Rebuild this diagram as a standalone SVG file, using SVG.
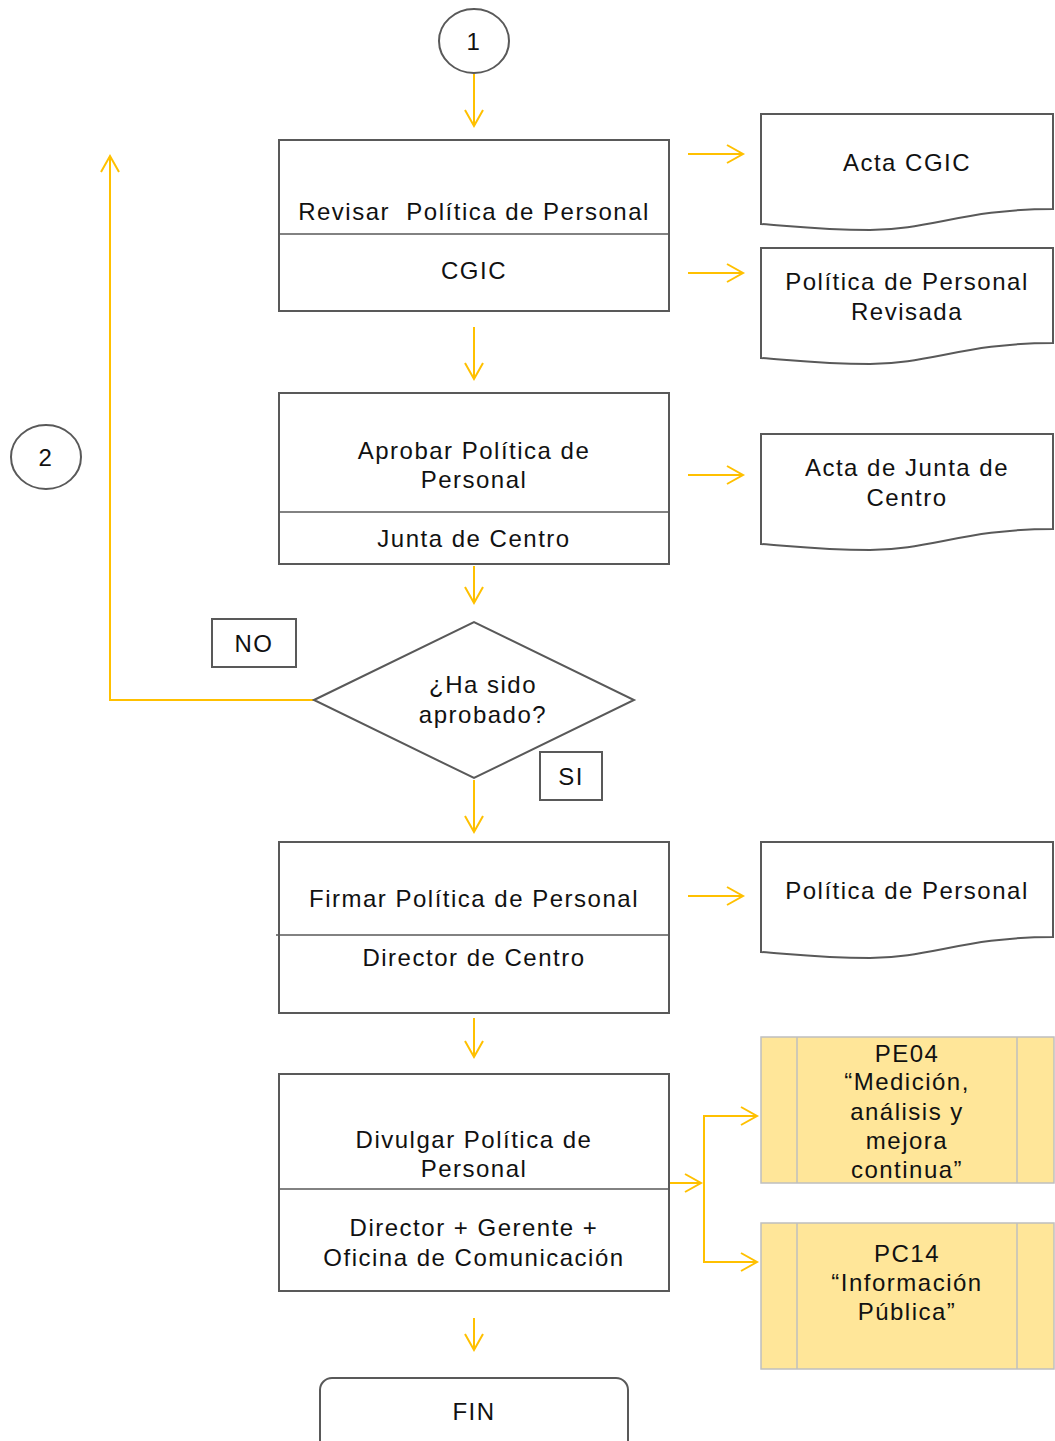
<svg xmlns="http://www.w3.org/2000/svg" width="1055" height="1441" viewBox="0 0 1055 1441">
<defs>
<marker id="ah" markerUnits="userSpaceOnUse" markerWidth="22" markerHeight="22" refX="19" refY="11" orient="auto" viewBox="0 0 22 22">
<path d="M3,2 L19,11 L3,20" fill="none" stroke="#FFC000" stroke-width="2"/>
</marker>
<style>
.box{fill:#fff;stroke:#595959;stroke-width:2}
.line{stroke:#595959;stroke-width:1.5}
.proc{fill:#FFE699;stroke:#BFBFBF;stroke-width:1.5}
.t{font-family:"Liberation Sans",Arial,sans-serif;font-size:24px;letter-spacing:1.5px;fill:#111;text-anchor:middle}
.c{fill:none;stroke:#FFC000;stroke-width:2}
</style>
</defs>
<rect width="1055" height="1441" fill="#fff"/>

<g id="connectors">
<line class="c" x1="474" y1="74" x2="474" y2="126" marker-end="url(#ah)"/>
<line class="c" x1="474" y1="327" x2="474" y2="379" marker-end="url(#ah)"/>
<line class="c" x1="474" y1="566" x2="474" y2="603" marker-end="url(#ah)"/>
<line class="c" x1="474" y1="780" x2="474" y2="832" marker-end="url(#ah)"/>
<line class="c" x1="474" y1="1018" x2="474" y2="1057" marker-end="url(#ah)"/>
<line class="c" x1="474" y1="1318" x2="474" y2="1350" marker-end="url(#ah)"/>
<polyline class="c" points="314,700 110,700 110,156" marker-end="url(#ah)"/>
<line class="c" x1="688" y1="154" x2="743" y2="154" marker-end="url(#ah)"/>
<line class="c" x1="688" y1="273" x2="743" y2="273" marker-end="url(#ah)"/>
<line class="c" x1="688" y1="475" x2="743" y2="475" marker-end="url(#ah)"/>
<line class="c" x1="688" y1="896" x2="743" y2="896" marker-end="url(#ah)"/>
<line class="c" x1="669" y1="1183" x2="701" y2="1183" marker-end="url(#ah)"/>
<polyline class="c" points="704,1116 704,1262"/>
<line class="c" x1="703" y1="1116" x2="757" y2="1116" marker-end="url(#ah)"/>
<line class="c" x1="703" y1="1262" x2="757" y2="1262" marker-end="url(#ah)"/>
</g>

<g id="start1">
<ellipse class="box" cx="474" cy="41" rx="35" ry="32"/>
<text class="t" x="474" y="50">1</text>
</g>

<g id="conn2">
<ellipse class="box" cx="46" cy="457" rx="35" ry="32"/>
<text class="t" x="46" y="466">2</text>
</g>

<g id="revisar">
<rect class="box" x="279" y="140" width="390" height="171"/>
<line class="line" x1="279" y1="234" x2="669" y2="234"/>
<text class="t" x="474" y="220" xml:space="preserve">Revisar  Política de Personal</text>
<text class="t" x="474" y="279">CGIC</text>
</g>

<g id="aprobar">
<rect class="box" x="279" y="393" width="390" height="171"/>
<line class="line" x1="279" y1="512" x2="669" y2="512"/>
<text class="t" x="474" y="459">Aprobar Política de</text>
<text class="t" x="474" y="488">Personal</text>
<text class="t" x="474" y="547">Junta de Centro</text>
</g>

<g id="decision">
<polygon class="box" points="314,700 474,622 634,700 474,778"/>
<text class="t" x="483" y="693">¿Ha sido</text>
<text class="t" x="483" y="723">aprobado?</text>
</g>

<g id="no">
<rect class="box" x="212" y="619" width="84" height="48"/>
<text class="t" x="254" y="652">NO</text>
</g>

<g id="si">
<rect class="box" x="540" y="752" width="62" height="48"/>
<text class="t" x="571" y="785">SI</text>
</g>

<g id="firmar">
<rect class="box" x="279" y="842" width="390" height="171"/>
<line class="line" x1="276" y1="935" x2="669" y2="935"/>
<text class="t" x="474" y="907">Firmar Política de Personal</text>
<text class="t" x="474" y="966">Director de Centro</text>
</g>

<g id="divulgar">
<rect class="box" x="279" y="1074" width="390" height="217"/>
<line class="line" x1="279" y1="1189" x2="669" y2="1189"/>
<text class="t" x="474" y="1148">Divulgar Política de</text>
<text class="t" x="474" y="1177">Personal</text>
<text class="t" x="474" y="1236">Director + Gerente +</text>
<text class="t" x="474" y="1266">Oficina de Comunicación</text>
</g>

<g id="fin">
<rect class="box" x="320" y="1378" width="308" height="80" rx="12"/>
<text class="t" x="474" y="1420">FIN</text>
</g>

<g id="doc-acta-cgic">
<path class="box" d="M761,114 H1053 V209 C965,209 930,230 870,230 C820,230 790,226 761,224 Z"/>
<text class="t" x="907" y="171">Acta CGIC</text>
</g>

<g id="doc-politica-revisada">
<path class="box" d="M761,248 H1053 V343 C965,343 930,364 870,364 C820,364 790,360 761,358 Z"/>
<text class="t" x="907" y="290">Política de Personal</text>
<text class="t" x="907" y="320">Revisada</text>
</g>

<g id="doc-acta-junta">
<path class="box" d="M761,434 H1053 V529 C965,529 930,550 870,550 C820,550 790,546 761,544 Z"/>
<text class="t" x="907" y="476">Acta de Junta de</text>
<text class="t" x="907" y="506">Centro</text>
</g>

<g id="doc-politica">
<path class="box" d="M761,842 H1053 V937 C965,937 930,958 870,958 C820,958 790,954 761,952 Z"/>
<text class="t" x="907" y="899">Política de Personal</text>
</g>

<g id="pe04">
<rect class="proc" x="761" y="1037" width="293" height="146"/>
<line class="proc" x1="797" y1="1037" x2="797" y2="1183"/>
<line class="proc" x1="1017" y1="1037" x2="1017" y2="1183"/>
<text class="t" x="907" y="1062">PE04</text>
<text class="t" x="907" y="1090">“Medición,</text>
<text class="t" x="907" y="1120">análisis y</text>
<text class="t" x="907" y="1149">mejora</text>
<text class="t" x="907" y="1178">continua”</text>
</g>

<g id="pc14">
<rect class="proc" x="761" y="1223" width="293" height="146"/>
<line class="proc" x1="797" y1="1223" x2="797" y2="1369"/>
<line class="proc" x1="1017" y1="1223" x2="1017" y2="1369"/>
<text class="t" x="907" y="1262">PC14</text>
<text class="t" x="907" y="1291">“Información</text>
<text class="t" x="907" y="1320">Pública”</text>
</g>
</svg>
